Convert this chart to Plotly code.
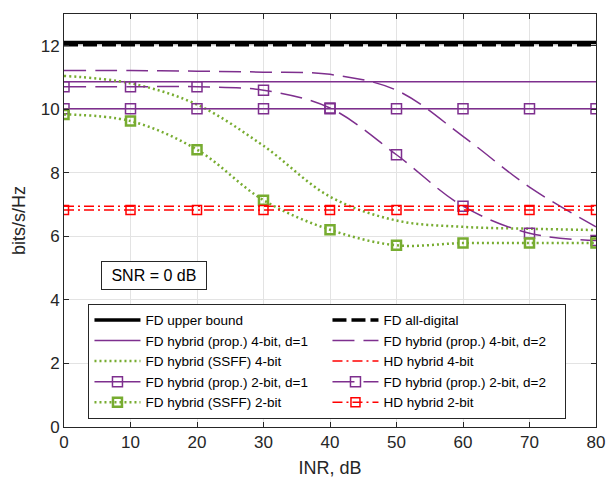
import plotly.graph_objects as go

inr = [0, 10, 20, 30, 40, 50, 60, 70, 80]

fd_upper = [12.1] * 9
fd_digital = [12.03] * 9
prop4_d1 = [10.87] * 9
prop4_d2 = [11.22, 11.22, 11.2, 11.17, 11.1, 10.6, 9.15, 7.55, 6.3]
ssff4 = [11.05, 10.82, 10.15, 8.85, 7.25, 6.5, 6.3, 6.24, 6.2]
hd4 = [6.95] * 9
prop2_d1 = [10.02] * 9
prop2_d2 = [10.71, 10.71, 10.71, 10.6, 10.04, 8.57, 6.95, 6.1, 5.87]
ssff2 = [9.84, 9.63, 8.73, 7.14, 6.21, 5.72, 5.79, 5.79, 5.79]
hd2 = [6.83] * 9

names = [
    "FD upper bound", "FD all-digital",
    "FD hybrid (prop.) 4-bit, d=1", "FD hybrid (prop.) 4-bit, d=2",
    "FD hybrid (SSFF) 4-bit", "HD hybrid 4-bit",
    "FD hybrid (prop.) 2-bit, d=1", "FD hybrid (prop.) 2-bit, d=2",
    "FD hybrid (SSFF) 2-bit", "HD hybrid 2-bit",
]

PURPLE = "#7E2F8E"
GREEN = "#77AC30"
RED = "#FF0000"

fig = go.Figure()

def add(y, name, color, width, dash, marker=None, msize=9, mlw=1.5, shape="linear"):
    kw = dict(x=inr, y=y, name=name, line=dict(color=color, width=width, dash=dash, shape=shape))
    if marker:
        kw["mode"] = "lines+markers"
        kw["marker"] = dict(symbol=marker, size=msize, color=color,
                            line=dict(color=color, width=mlw))
    else:
        kw["mode"] = "lines"
    fig.add_trace(go.Scatter(**kw))

add(fd_upper, names[0], "black", 3.5, "solid")
add(fd_digital, names[1], "black", 3.5, "14px,5px")
add(prop4_d1, names[2], PURPLE, 1.5, "solid")
add(prop4_d2, names[3], PURPLE, 1.5, "22px,9px", shape="spline")
add(ssff4, names[4], GREEN, 2.5, "2px,3px", shape="spline")
add(hd4, names[5], RED, 1.5, "10px,4px,2px,4px")
add(prop2_d1, names[6], PURPLE, 1.5, "solid", marker="square-open", msize=10, mlw=1.5)
add(prop2_d2, names[7], PURPLE, 1.5, "22px,9px", marker="square-open", msize=10, mlw=1.5, shape="spline")
add(ssff2, names[8], GREEN, 2.5, "2px,3px", marker="square-open", msize=9, mlw=2.5, shape="spline")
add(hd2, names[9], RED, 1.5, "10px,4px,2px,4px", marker="square-open", msize=9, mlw=1.5)

axis_common = dict(
    showline=True, linecolor="#262626", linewidth=1, mirror="ticks",
    ticks="inside", ticklen=5, tickcolor="#262626",
    showgrid=True, gridcolor="#e3e3e3", gridwidth=1, zeroline=False,
    automargin=False, ticklabeloverflow="allow",
    tickfont=dict(family="Liberation Sans, Arial", size=17, color="#262626"),
)

fig.update_layout(
    width=607, height=487,
    margin=dict(l=64, r=11, t=14, b=60),
    paper_bgcolor="white", plot_bgcolor="white",
    font=dict(family="Liberation Sans, Arial", color="#262626"),
    xaxis=dict(range=[0, 80], tickvals=inr, title=dict(text="INR, dB", font=dict(size=18), standoff=9),
               **axis_common),
    yaxis=dict(range=[0, 13], tickvals=[0, 2, 4, 6, 8, 10, 12],
               title=dict(text="bits/s/Hz", font=dict(size=18), standoff=10), **axis_common),
    legend=dict(
        orientation="h", x=0.046, y=0.02, xanchor="left", yanchor="bottom",
        entrywidth=177, entrywidthmode="pixels", itemwidth=46,
        bgcolor="white", bordercolor="#262626", borderwidth=1,
        font=dict(family="Liberation Sans, Arial", size=13.5, color="black"),
        tracegroupgap=0, traceorder="normal",
    ),
    showlegend=True,
)

fig.add_annotation(
    x=13.6, y=4.77, xref="x", yref="y", text="&nbsp;SNR = 0 dB&nbsp;", showarrow=False,
    font=dict(family="Liberation Sans, Arial", size=16, color="black"),
    bordercolor="#262626", borderwidth=1, bgcolor="white", borderpad=5,
)

fig.write_html(
    "out.html",
    config={"displayModeBar": False},
    post_script="document.body.style.margin='0';document.body.style.overflow='hidden';",
)
